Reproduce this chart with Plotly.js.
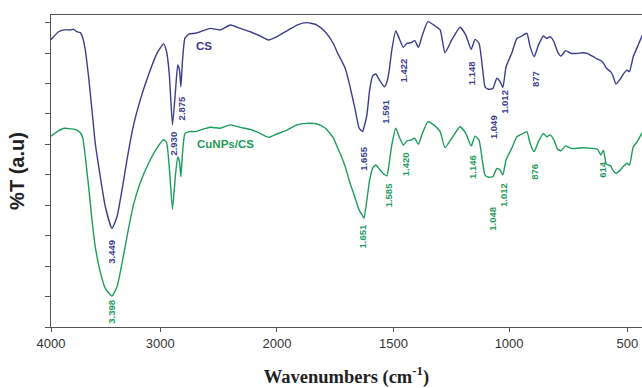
<!DOCTYPE html>
<html>
<head>
<meta charset="utf-8">
<script src="https://cdn.plot.ly/plotly-3.0.1.min.js"></script>
<style>html,body{margin:0;padding:0;background:#fff;}#chart{width:642px;height:388px;}</style>
</head>
<body>
<div id="chart"></div>
<script>
// ---- data ----
const wavenumber = [4000,3930,3878,3823,3793,3762,3732,3709,3686,3656,3625,3595,3549,3503,3442,3396,3350,3297,3244,3183,3107,3030,2972,2946,2923,2895,2871,2850,2835,2823,2809,2788,2751,2700,2657,2572,2486,2400,2314,2229,2143,2072,2000,1957,1914,1871,1828,1793,1759,1739,1724,1707,1686,1664,1647,1632,1626,1614,1602,1589,1576,1561,1539,1528,1518,1507,1490,1475,1457,1442,1424,1408,1392,1375,1351,1320,1298,1277,1248,1212,1187,1164,1147,1130,1114,1104,1089,1070,1053,1039,1027,1013,989,967,946,925,911,894,876,855,841,827,810,795,780,761,738,710,691,670,644,626,612,601,589,570,562,548,533,517,502,491,475,458,439,425];

const transCS = [94.4,97.0,97.6,97.6,97.8,97.0,96.7,94.9,91.0,82.2,71.3,60.4,49.4,39.5,32.4,36.2,45.0,56.5,66.4,74.6,82.9,89.9,93.0,90.5,83.3,66.4,76.8,86.1,84.4,78.9,87.7,94.9,96.3,96.5,97.0,98.1,97.6,99.2,98.1,97.0,95.6,94.3,95.4,97.3,99.2,100.0,99.2,97.0,93.3,89.9,87.7,85.0,78.9,71.3,65.3,64.2,65.7,69.6,77.9,82.5,83.1,81.3,78.9,80.5,84.4,91.0,97.3,94.8,91.9,93.2,93.4,94.1,91.9,95.9,100.3,98.9,97.6,90.1,94.3,98.5,95.9,91.2,94.5,93.2,84.4,78.9,78.1,78.4,81.7,80.6,78.7,85.5,89.9,94.8,95.6,96.5,92.1,88.8,92.6,95.6,94.8,95.4,93.7,90.4,89.0,90.8,89.9,89.9,90.1,89.9,88.8,88.0,87.5,86.7,85.1,83.8,82.8,79.8,81.1,83.1,84.4,83.9,88.8,91.9,95.4,97.6];

const transCuNPsCS = [62.7,64.5,65.3,65.1,65.0,64.7,63.8,62.1,55.9,46.3,35.2,26.4,18.1,12.7,10.2,13.2,20.9,31.1,40.3,47.4,53.8,58.8,61.5,60.6,52.7,38.7,49.4,55.9,54.3,49.4,57.1,63.6,64.2,64.2,64.7,65.6,65.3,66.4,65.6,64.9,63.6,62.3,63.4,64.7,66.4,66.9,66.7,65.4,62.3,58.8,56.2,52.7,47.2,42.3,38.4,36.5,35.7,41.7,48.3,52.2,53.2,51.9,50.1,49.7,53.9,59.8,65.3,62.5,59.8,61.1,61.4,62.0,60.0,63.6,67.4,66.0,64.2,58.9,62.0,65.8,63.6,59.5,62.7,61.4,53.8,49.9,49.2,49.4,52.1,51.6,49.9,54.9,58.7,62.5,63.4,64.2,60.3,57.6,60.9,63.6,62.5,63.1,61.4,58.4,57.9,59.5,58.7,58.7,58.9,58.8,58.7,58.4,56.5,58.1,53.5,52.9,51.6,50.5,51.3,52.7,53.8,53.2,59.2,60.9,63.6,65.4];

const tickWavenumbers = [4000, 3000, 2000, 1500, 1000, 500];
const tickLabels = ["4000", "3000", "2000", "1500", "1000", "500"];

const seriesNames = ["CS", "CuNPs/CS"];
const peakLabelsCS = ["3.449", "2.930", "2.875", "1.655", "1.591", "1.422", "1.148", "1.049", "1.012", "877"];
const peakLabelsCu = ["3.398", "1.651", "1.585", "1.420", "1.146", "1.048", "1.012", "876", "614"];

// ---- piecewise-linear wavenumber scale (axis expanded below 2000 cm-1) ----
const scaleW = [4000, 3000, 2000, 1500, 1000, 500];
const scaleU = [0, 109.3, 226, 342.6, 458.3, 576.6];
function toU(w) {
  const n = scaleW.length;
  for (let i = 0; i < n - 1; i++) {
    if (w >= scaleW[i + 1] || i === n - 2) {
      return scaleU[i] + (scaleW[i] - w) * (scaleU[i + 1] - scaleU[i]) / (scaleW[i] - scaleW[i + 1]);
    }
  }
}
const xU = wavenumber.map(toU);

const colCS = "#3c3c8c";
const colCu = "#1e9c5c";

const traces = [
  {x: xU, y: transCS, mode: "lines", name: seriesNames[0], line: {color: colCS, width: 1.4, shape: "spline", smoothing: 0.5}, hoverinfo: "skip"},
  {x: xU, y: transCuNPsCS, mode: "lines", name: seriesNames[1], line: {color: colCu, width: 1.4, shape: "spline", smoothing: 0.5}, hoverinfo: "skip"}
];

// label placements (layout)
const posCS = [[61,24.7],[122.6,60.1],[131,71.8],[312.6,55.4],[335,70.7],[352.6,84.4],[421,83.3],[442.6,65.8],[454.3,74.0],[485.3,81.5]];
const posCu = [[61,5.0],[312.6,29.9],[337.6,43.4],[354.3,53.5],[421.6,52.7],[442,35.5],[453.3,43.4],[484.3,51.0],[551,51.9]];

const annotations = [];
function addPeak(txt, p, col) {
  annotations.push({x: p[0], y: p[1], xref: "x", yref: "y", text: "<b>" + txt + "</b>", showarrow: false,
    textangle: -90, xanchor: "center", yanchor: "middle",
    font: {family: "Liberation Sans, Arial, sans-serif", size: 9.5, color: col}});
}
peakLabelsCS.forEach((t, i) => addPeak(t, posCS[i], colCS));
peakLabelsCu.forEach((t, i) => addPeak(t, posCu[i], colCu));
annotations.push({x: 153.3, y: 92.3, xref: "x", yref: "y", text: "<b>" + seriesNames[0] + "</b>", showarrow: false,
  xanchor: "center", yanchor: "middle", font: {family: "Liberation Sans, Arial, sans-serif", size: 11.5, color: colCS}});
annotations.push({x: 174.3, y: 60.1, xref: "x", yref: "y", text: "<b>" + seriesNames[1] + "</b>", showarrow: false,
  xanchor: "center", yanchor: "middle", font: {family: "Liberation Sans, Arial, sans-serif", size: 11.5, color: colCu}});

const layout = {
  width: 642, height: 388,
  margin: {l: 51, r: 0, t: 15, b: 61},
  paper_bgcolor: "#ffffff", plot_bgcolor: "#ffffff",
  showlegend: false,
  xaxis: {
    range: [0, toU(438)],
    tickvals: tickWavenumbers.map(toU), ticktext: tickLabels,
    ticks: "outside", ticklen: 4, tickwidth: 1, tickcolor: "#555",
    showline: true, linecolor: "#555", linewidth: 1.2, mirror: true,
    showgrid: false, zeroline: false,
    tickfont: {family: "Liberation Sans, Arial, sans-serif", size: 13, color: "#333"},
    title: {text: "<b>Wavenumbers (cm<sup>-1</sup>)</b>", standoff: 20,
      font: {family: "Liberation Serif, Times New Roman, serif", size: 18.5, color: "#222"}}
  },
  yaxis: {
    range: [0, 102.5],
    tickvals: [0,10,20,30,40,50,60,70,80,90,100],
    showticklabels: false,
    ticks: "outside", ticklen: 5, tickwidth: 1, tickcolor: "#555",
    showline: true, linecolor: "#555", linewidth: 1.2, mirror: false,
    showgrid: false, zeroline: false,
    title: {text: "<b>%T (a.u)</b>", standoff: 14,
      font: {family: "Liberation Sans, Arial, sans-serif", size: 20, color: "#222"}}
  },
  annotations: annotations
};

Plotly.newPlot("chart", traces, layout, {staticPlot: true, displayModeBar: false});
</script>
</body>
</html>
